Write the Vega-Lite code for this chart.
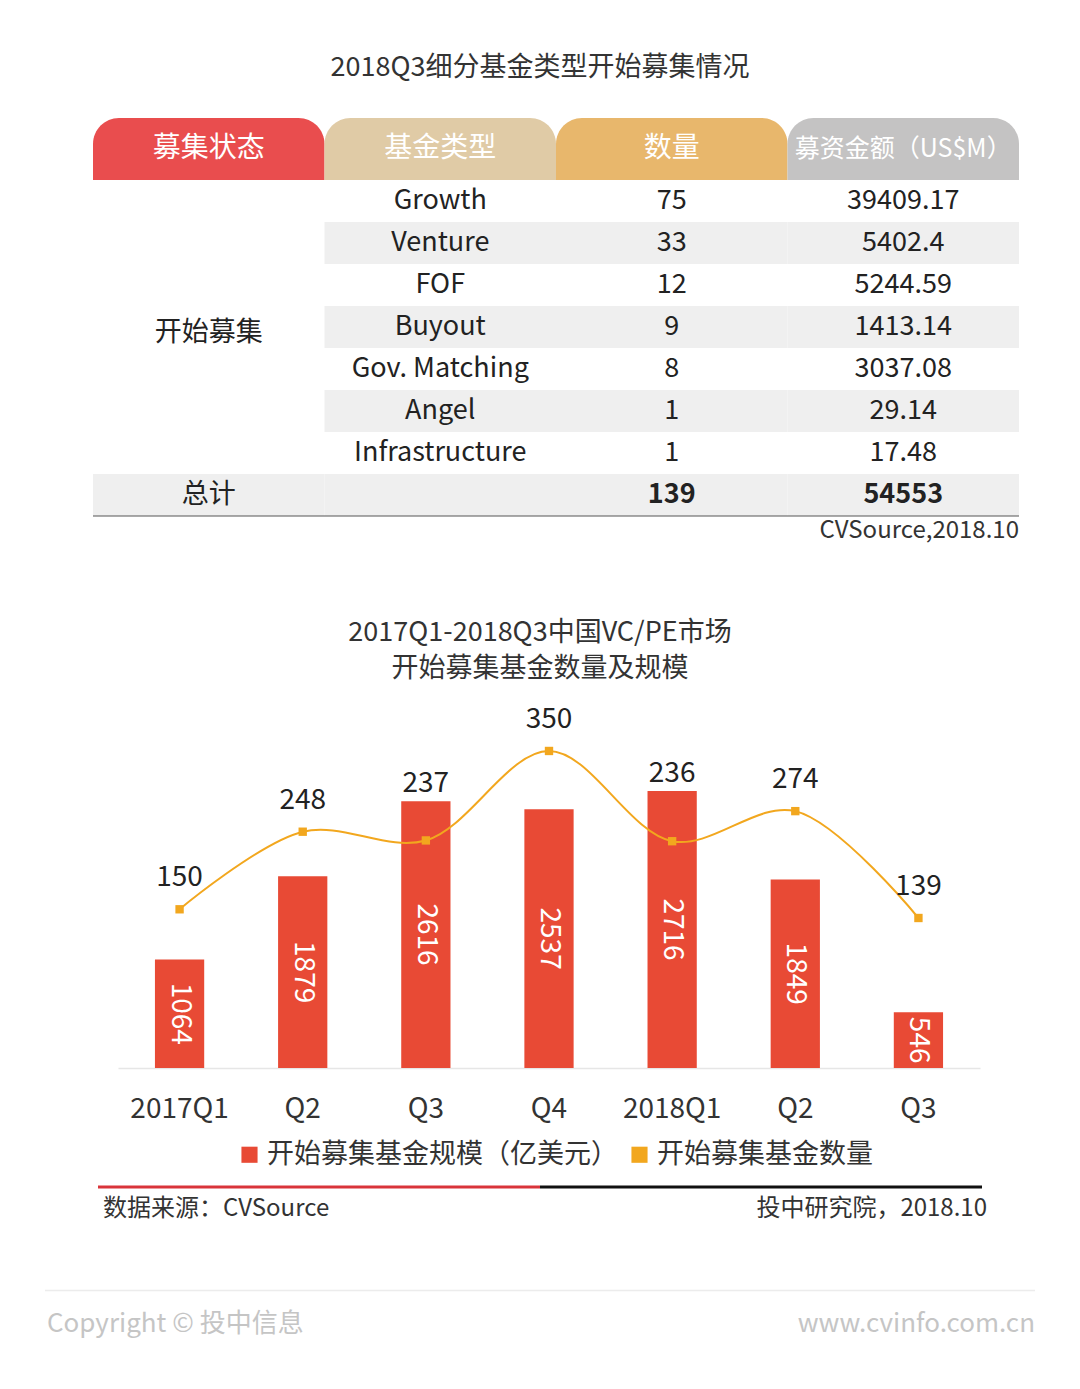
{
  "$schema": "https://vega.github.io/schema/vega-lite/v6.json",
  "background": "white",
  "padding": {"top": 54, "left": 0, "right": 0, "bottom": 0},
  "config": {
    "font": "Noto Sans CJK SC",
    "view": {"stroke": null},
    "text": {"font": "Noto Sans CJK SC"},
    "title": {"font": "Noto Sans CJK SC", "fontWeight": "normal", "color": "#333333", "fontSize": 27, "anchor": "middle", "subtitleFont": "Noto Sans CJK SC", "subtitleFontSize": 27, "subtitleColor": "#333333"},
    "axis": {"labelFont": "Noto Sans CJK SC"},
    "legend": {"labelFont": "Noto Sans CJK SC"}
  },
  "datasets": {
    "header": [
      {"key": "status", "label": "募集状态"},
      {"key": "type", "label": "基金类型"},
      {"key": "count", "label": "数量"},
      {"key": "amount", "label": "募资金额（US$M）"}
    ],
    "types": [
      {"row": "Growth", "type": "Growth", "count": 75, "amount": 39409.17},
      {"row": "Venture", "type": "Venture", "count": 33, "amount": 5402.4},
      {"row": "FOF", "type": "FOF", "count": 12, "amount": 5244.59},
      {"row": "Buyout", "type": "Buyout", "count": 9, "amount": 1413.14},
      {"row": "Gov. Matching", "type": "Gov. Matching", "count": 8, "amount": 3037.08},
      {"row": "Angel", "type": "Angel", "count": 1, "amount": 29.14},
      {"row": "Infrastructure", "type": "Infrastructure", "count": 1, "amount": 17.48},
      {"row": "总计", "type": "", "count": 139, "amount": 54553}
    ],
    "quarters": [
      {"q": "2017Q1", "amount": 1064, "count": 150},
      {"q": "2017Q2", "amount": 1879, "count": 248},
      {"q": "2017Q3", "amount": 2616, "count": 237},
      {"q": "2017Q4", "amount": 2537, "count": 350},
      {"q": "2018Q1", "amount": 2716, "count": 236},
      {"q": "2018Q2", "amount": 1849, "count": 274},
      {"q": "2018Q3", "amount": 546, "count": 139}
    ]
  },
  "spacing": 61,
  "resolve": {"scale": {"color": "independent"}, "legend": {"color": "independent"}},
  "vconcat": [
    {
      "spacing": 0,
      "resolve": {"scale": {"color": "independent"}},
      "vconcat": [
        {
          "title": {"text": "2018Q3细分基金类型开始募集情况", "offset": 36},
          "width": 1080,
          "height": 62,
          "data": {"name": "header"},
          "encoding": {
            "x": {"field": "key", "type": "nominal", "sort": null, "scale": {"domain": ["status", "type", "count", "amount"], "range": [93, 1019], "paddingInner": 0, "paddingOuter": 0}, "axis": null}
          },
          "layer": [
            {
              "mark": {"type": "rect", "cornerRadiusTopLeft": 26, "cornerRadiusTopRight": 26},
              "encoding": {
                "color": {"field": "key", "type": "nominal", "scale": {"domain": ["status", "type", "count", "amount"], "range": ["#e94d4e", "#e0cba6", "#e8b76c", "#c4c3c3"]}, "legend": null}
              }
            },
            {
              "transform": [{"filter": "datum.key != 'amount'"}],
              "mark": {"type": "text", "fontSize": 28, "color": "white", "baseline": "middle"},
              "encoding": {"text": {"field": "label", "type": "nominal"}}
            },
            {
              "transform": [{"filter": "datum.key == 'amount'"}],
              "mark": {"type": "text", "fontSize": 25, "color": "white", "baseline": "middle"},
              "encoding": {"text": {"field": "label", "type": "nominal"}}
            }
          ]
        },
        {
          "width": 1080,
          "height": 378,
          "data": {"name": "types"},
          "encoding": {
            "x": {"scale": {"domain": ["status", "type", "count", "amount"], "range": [93, 1019], "paddingInner": 0, "paddingOuter": 0}, "axis": null},
            "y": {"scale": {"domain": ["Growth", "Venture", "FOF", "Buyout", "Gov. Matching", "Angel", "Infrastructure", "总计", "src"], "paddingInner": 0, "paddingOuter": 0}, "axis": null}
          },
          "layer": [
            {
              "transform": [
                {"filter": "indexof(['Venture','Buyout','Angel','总计'], datum.row) >= 0"},
                {"fold": ["type", "count", "amount"], "as": ["key", "value"]}
              ],
              "mark": {"type": "rect", "color": "#efefef"},
              "encoding": {
                "x": {"field": "key", "type": "nominal"},
                "y": {"field": "row", "type": "nominal"}
              }
            },
            {
              "transform": [{"filter": "datum.row == '总计'"}],
              "mark": {"type": "rect", "color": "#efefef"},
              "encoding": {
                "x": {"datum": "status", "type": "nominal"},
                "y": {"field": "row", "type": "nominal"}
              }
            },
            {
              "transform": [{"filter": "datum.row != '总计'"}, {"fold": ["type", "count", "amount"], "as": ["key", "value"]}],
              "mark": {"type": "text", "fontSize": 27, "color": "#222222", "baseline": "middle"},
              "encoding": {
                "x": {"field": "key", "type": "nominal"},
                "y": {"field": "row", "type": "nominal"},
                "text": {"field": "value", "type": "nominal"}
              }
            },
            {
              "transform": [{"filter": "datum.row == '总计'"}, {"fold": ["count", "amount"], "as": ["key", "value"]}],
              "mark": {"type": "text", "fontSize": 27, "fontWeight": "bold", "color": "#222222", "baseline": "middle"},
              "encoding": {
                "x": {"field": "key", "type": "nominal"},
                "y": {"field": "row", "type": "nominal"},
                "text": {"field": "value", "type": "nominal"}
              }
            },
            {
              "transform": [{"filter": "datum.row == '总计'"}],
              "mark": {"type": "text", "fontSize": 27, "color": "#222222", "baseline": "middle"},
              "encoding": {
                "x": {"datum": "status", "type": "nominal"},
                "y": {"field": "row", "type": "nominal"},
                "text": {"field": "row", "type": "nominal"}
              }
            },
            {
              "transform": [{"filter": "datum.row == 'Buyout'"}],
              "mark": {"type": "text", "fontSize": 27, "color": "#222222", "baseline": "middle", "text": "开始募集", "dy": 6},
              "encoding": {
                "x": {"datum": "status", "type": "nominal"},
                "y": {"field": "row", "type": "nominal"}
              }
            },
            {
              "transform": [{"filter": "datum.row == '总计'"}],
              "mark": {"type": "rule", "color": "#555555", "strokeWidth": 1},
              "encoding": {
                "x": {"datum": "status", "type": "nominal", "bandPosition": 0},
                "x2": {"datum": "amount", "bandPosition": 1},
                "y": {"datum": "src", "type": "nominal", "bandPosition": 0}
              }
            },
            {
              "transform": [{"filter": "datum.row == '总计'"}],
              "mark": {"type": "text", "fontSize": 24, "color": "#333333", "align": "right", "baseline": "middle", "text": "CVSource,2018.10", "dy": -6},
              "encoding": {
                "x": {"datum": "amount", "type": "nominal", "bandPosition": 1},
                "y": {"datum": "src", "type": "nominal"}
              }
            }
          ]
        }
      ]
    },
    {
      "spacing": 53,
      "resolve": {"scale": {"color": "independent"}, "legend": {"color": "independent"}},
      "vconcat": [
        {
          "spacing": 8,
          "resolve": {"scale": {"color": "independent"}, "legend": {"color": "independent"}},
          "vconcat": [
            {
              "title": {"text": "2017Q1-2018Q3中国VC/PE市场", "subtitle": "开始募集基金数量及规模", "subtitlePadding": 9, "offset": 20},
              "width": 1080,
              "height": 365,
              "data": {"name": "quarters"},
              "encoding": {
                "x": {
                  "field": "q", "type": "nominal", "sort": null,
                  "scale": {"range": [118, 980], "paddingInner": 0.6, "paddingOuter": 0.3},
                  "axis": {"title": null, "labelAngle": 0, "labelFontSize": 28, "labelColor": "#333333", "labelPadding": 27, "ticks": false, "domainColor": "#e6e6e6", "domainWidth": 1.5, "labelExpr": "indexof(datum.label, 'Q1') >= 0 ? datum.label : substring(datum.label, 4)"}
                }
              },
              "layer": [
                {
                  "encoding": {
                    "y": {"field": "amount", "type": "quantitative", "scale": {"domain": [0, 3578], "nice": false, "zero": true}, "axis": null}
                  },
                  "layer": [
                    {
                      "mark": {"type": "bar"},
                      "encoding": {
                        "color": {
                          "datum": "开始募集基金规模（亿美元）",
                          "scale": {"domain": ["开始募集基金规模（亿美元）", "开始募集基金数量"], "range": ["#e84a35", "#f2a71e"]},
                          "legend": {"orient": "none", "legendX": 236, "legendY": 438, "direction": "horizontal", "title": null, "labelFontSize": 27, "labelColor": "#333333", "symbolType": "square", "symbolSize": 260, "columnPadding": 8, "labelOffset": 4, "labelLimit": 600, "symbolStrokeWidth": 0}
                        }
                      }
                    },
                    {
                      "transform": [{"filter": "datum.q == '2017Q3' || datum.q == '2018Q1'"}],
                      "mark": {"type": "text", "fontSize": 28, "color": "#222222", "baseline": "middle", "dy": -17},
                      "encoding": {"text": {"field": "count", "type": "nominal"}}
                    }
                  ]
                },
                {
                  "layer": [
                    {
                      "mark": {"type": "text", "fontSize": 28, "color": "white", "angle": 90, "align": "center", "baseline": "middle"},
                      "encoding": {
                        "y": {"field": "amount", "type": "quantitative", "scale": {"domain": [0, 7156], "nice": false, "zero": true}, "axis": null},
                        "text": {"field": "amount", "type": "nominal"}
                      }
                    }
                  ]
                },
                {
                  "encoding": {
                    "y": {"field": "count", "type": "quantitative", "scale": {"domain": [-50.5, 410.6], "nice": false, "zero": false}, "axis": null},
                    "color": {"datum": "开始募集基金数量"}
                  },
                  "layer": [
                    {"mark": {"type": "line", "interpolate": "catmull-rom", "strokeWidth": 2}},
                    {"mark": {"type": "point", "shape": "square", "filled": true, "size": 70, "opacity": 1}},
                    {
                      "transform": [{"filter": "datum.q != '2017Q3' && datum.q != '2018Q1'"}],
                      "mark": {"type": "text", "fontSize": 28, "color": "#222222", "baseline": "middle", "dy": -31},
                      "encoding": {"text": {"field": "count", "type": "nominal"}, "color": {"value": "#222222"}}
                    }
                  ]
                }
              ],
              "resolve": {"scale": {"y": "independent"}}
            },
            {
              "width": 1080,
              "height": 44,
              "data": {"values": [{"left": "数据来源：CVSource", "right": "投中研究院，2018.10"}]},
              "encoding": {
                "x": {"scale": {"domain": [0, 1], "range": [98, 982]}, "axis": null},
                "y": {"scale": {"domain": ["rule", "text"], "paddingInner": 0, "paddingOuter": 0}, "axis": null}
              },
              "layer": [
                {
                  "mark": {"type": "rule", "color": "#d9343a", "strokeWidth": 3},
                  "encoding": {"x": {"datum": 0, "type": "quantitative"}, "x2": {"datum": 0.5}, "y": {"datum": "rule", "type": "nominal"}}
                },
                {
                  "mark": {"type": "rule", "color": "#111111", "strokeWidth": 3},
                  "encoding": {"x": {"datum": 0.5, "type": "quantitative"}, "x2": {"datum": 1}, "y": {"datum": "rule", "type": "nominal"}}
                },
                {
                  "mark": {"type": "text", "fontSize": 24, "color": "#333333", "align": "left", "baseline": "middle", "dx": 5},
                  "encoding": {"x": {"datum": 0, "type": "quantitative"}, "y": {"datum": "text", "type": "nominal"}, "text": {"field": "left", "type": "nominal"}}
                },
                {
                  "mark": {"type": "text", "fontSize": 24, "color": "#333333", "align": "right", "baseline": "middle", "dx": 5},
                  "encoding": {"x": {"datum": 1, "type": "quantitative"}, "y": {"datum": "text", "type": "nominal"}, "text": {"field": "right", "type": "nominal"}}
                }
              ]
            }
          ]
        },
        {
          "width": 1080,
          "height": 66,
          "data": {"values": [{"left": "Copyright © 投中信息", "right": "www.cvinfo.com.cn"}]},
          "encoding": {
            "x": {"scale": {"domain": [0, 1], "range": [45, 1035]}, "axis": null},
            "y": {"scale": {"domain": ["rule", "text"], "paddingInner": 0, "paddingOuter": 0}, "axis": null}
          },
          "layer": [
            {
              "mark": {"type": "rule", "color": "#ececec", "strokeWidth": 1.5},
              "encoding": {"x": {"datum": 0, "type": "quantitative"}, "x2": {"datum": 1}, "y": {"datum": "rule", "type": "nominal"}}
            },
            {
              "mark": {"type": "text", "fontSize": 26, "color": "#c5c5c5", "align": "left", "baseline": "middle", "dx": 2},
              "encoding": {"x": {"datum": 0, "type": "quantitative"}, "y": {"datum": "text", "type": "nominal"}, "text": {"field": "left", "type": "nominal"}}
            },
            {
              "mark": {"type": "text", "fontSize": 26, "color": "#c5c5c5", "align": "right", "baseline": "middle"},
              "encoding": {"x": {"datum": 1, "type": "quantitative"}, "y": {"datum": "text", "type": "nominal"}, "text": {"field": "right", "type": "nominal"}}
            }
          ]
        }
      ]
    }
  ]
}
